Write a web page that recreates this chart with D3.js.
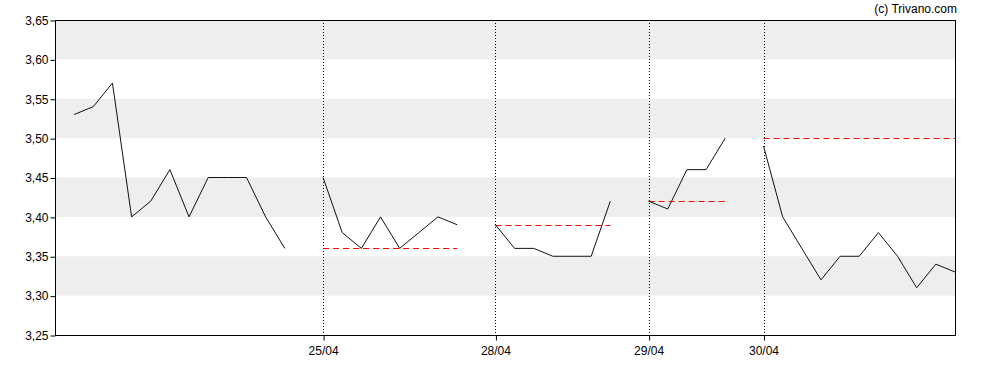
<!DOCTYPE html>
<html>
<head>
<meta charset="utf-8">
<script src="https://cdn.jsdelivr.net/npm/d3@7"></script>
<style>
  body { margin: 0; background: #fff; }
  svg { font-family: "Liberation Sans", Arial, sans-serif; }
</style>
</head>
<body>
<div id="chart"></div>
<script>
// price samples per trading day, one per slot; days are separated by one empty slot
const day1Prices = [3.53, 3.54, 3.57, 3.40, 3.42, 3.46, 3.40, 3.45, 3.45, 3.45, 3.40, 3.36]
const day2Prices = [3.45, 3.38, 3.36, 3.40, 3.36, 3.38, 3.40, 3.39]
const day3Prices = [3.39, 3.36, 3.36, 3.35, 3.35, 3.35, 3.42]
const day4Prices = [3.42, 3.41, 3.46, 3.46, 3.50]
const day5Prices = [3.49, 3.40, 3.36, 3.32, 3.35, 3.35, 3.38, 3.35, 3.31, 3.34, 3.33]

// first slot index of each day
const dayStarts = [0, 13, 22, 30, 36]
const dayLabels = [null, "25/04", "28/04", "29/04", "30/04"]
// previous close reference per day (red dashed)
const prevClose = [null, 3.36, 3.39, 3.42, 3.50]

const yTicks = [3.25, 3.30, 3.35, 3.40, 3.45, 3.50, 3.55, 3.60, 3.65]

const WIDTH = 988
const HEIGHT = 370
const LEFT = 55
const TOP = 20
const RIGHT = 955
const BOTTOM = 335

const days = [day1Prices, day2Prices, day3Prices, day4Prices, day5Prices]

const svg = d3.select("#chart")
    .append("svg")
    .attr("width", WIDTH)
    .attr("height", HEIGHT)

const xscale = d3.scaleLinear()
    .domain([-1, 46])
    .range([LEFT, RIGHT])

const yscale = d3.scaleLinear()
    .domain([3.25, 3.65])
    .range([BOTTOM, TOP])

// alternating grey bands
for (let i = 0; i < yTicks.length - 1; i++) {
    if (i % 2 === 1) {
        svg.append("rect")
            .attr("x", LEFT)
            .attr("y", yscale(yTicks[i + 1]))
            .attr("width", RIGHT - LEFT)
            .attr("height", yscale(yTicks[i]) - yscale(yTicks[i + 1]))
            .style("fill", "#eeeeee")
    }
}

// dotted day separators
dayStarts.forEach(function (s, i) {
    if (dayLabels[i] === null) return
    const x = Math.round(xscale(s)) + 0.5
    svg.append("line")
        .attr("x1", x).attr("x2", x)
        .attr("y1", TOP).attr("y2", BOTTOM)
        .style("stroke", "#000")
        .style("stroke-width", 1)
        .style("stroke-dasharray", "1,2")
})

// previous close reference lines
dayStarts.forEach(function (s, i) {
    if (prevClose[i] === null) return
    const y = Math.round(yscale(prevClose[i])) + 0.5
    svg.append("line")
        .attr("x1", xscale(s))
        .attr("x2", xscale(s + days[i].length - 1))
        .attr("y1", y).attr("y2", y)
        .style("stroke", "#ff0000")
        .style("stroke-width", 1)
        .style("stroke-dasharray", "6,4")
})

// price lines
const line = d3.line()
    .x(function (d) { return xscale(d.i) })
    .y(function (d) { return yscale(d.v) })

days.forEach(function (prices, k) {
    const pts = prices.map(function (v, j) { return { i: dayStarts[k] + j, v: v } })
    svg.append("path")
        .datum(pts)
        .attr("d", line)
        .style("fill", "none")
        .style("stroke", "#111")
        .style("stroke-width", 1)
})

// frame
svg.append("rect")
    .attr("x", LEFT + 0.5)
    .attr("y", TOP + 0.5)
    .attr("width", RIGHT - LEFT)
    .attr("height", BOTTOM - TOP)
    .style("fill", "none")
    .style("stroke", "#000")
    .style("stroke-width", 1)

const y_axis = d3.axisLeft(yscale)
    .tickValues(yTicks)
    .tickSizeOuter(0)
    .tickSize(5)
    .tickPadding(2)
    .tickFormat(function (d) { return d3.format(".2f")(d).replace(".", ",") })

const gy = svg.append("g")
    .attr("transform", "translate(" + (LEFT + 0.5) + ",0.5)")
    .call(y_axis)
gy.select(".domain").remove()
gy.selectAll("text").style("font-size", "12px").style("fill", "#000")

const labelledStarts = dayStarts.filter(function (s, i) { return dayLabels[i] !== null })
const x_axis = d3.axisBottom(xscale)
    .tickValues(labelledStarts)
    .tickSizeOuter(0)
    .tickSize(5)
    .tickPadding(6)
    .tickFormat(function (d) { return dayLabels[dayStarts.indexOf(d)] })

const gx = svg.append("g")
    .attr("transform", "translate(0," + (BOTTOM + 0.5) + ")")
    .call(x_axis)
gx.select(".domain").remove()
gx.selectAll(".tick line").attr("transform", "translate(0.5,0)")
gx.selectAll("text").style("font-size", "12px").style("fill", "#000")

svg.append("text")
    .attr("x", 957)
    .attr("y", 13)
    .attr("text-anchor", "end")
    .style("font-size", "12px")
    .text("(c) Trivano.com")
</script>
</body>
</html>
